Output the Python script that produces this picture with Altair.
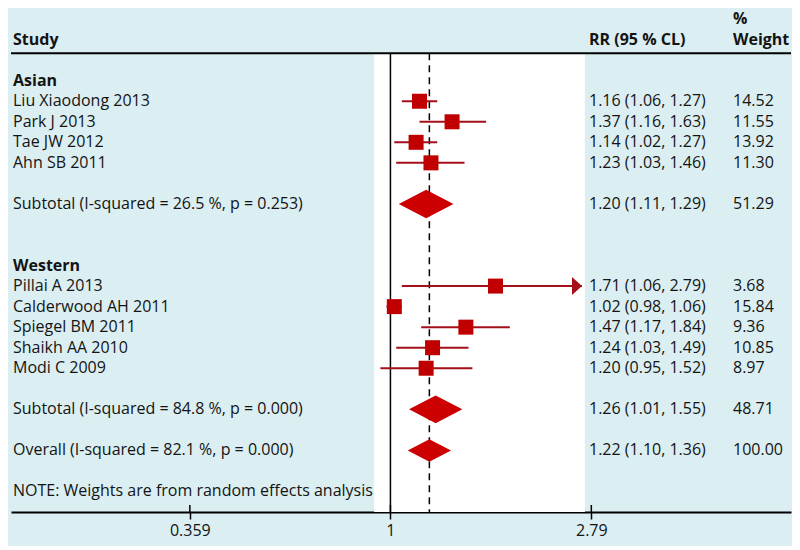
import altair as alt
import pandas as pd

# ---------------- data ----------------
studies = ["Liu Xiaodong 2013", "Park J 2013", "Tae JW 2012", "Ahn SB 2011",
           "Pillai A 2013", "Calderwood AH 2011", "Spiegel BM 2011",
           "Shaikh AA 2010", "Modi C 2009"]
study_rows = [1, 2, 3, 4, 10, 11, 12, 13, 14]
rr = [1.16, 1.37, 1.14, 1.23, 1.71, 1.02, 1.47, 1.24, 1.20]
lo = [1.06, 1.16, 1.02, 1.03, 1.06, 0.98, 1.17, 1.03, 0.95]
hi = [1.27, 1.63, 1.27, 1.46, 2.79, 1.06, 1.84, 1.49, 1.52]
weight = [14.52, 11.55, 13.92, 11.30, 3.68, 15.84, 9.36, 10.85, 8.97]

pooled_labels = ["Subtotal (I-squared = 26.5 %, p = 0.253)",
                 "Subtotal (I-squared = 84.8 %, p = 0.000)",
                 "Overall (I-squared = 82.1 %, p = 0.000)"]
pooled_rows = [6, 16, 18]
pooled_rr = [1.20, 1.26, 1.22]
pooled_lo = [1.11, 1.01, 1.10]
pooled_hi = [1.29, 1.55, 1.36]
pooled_w = [51.29, 48.71, 100.00]

group_labels = ["Asian", "Western"]
group_rows = [0, 9]
note_text = "NOTE: Weights are from random effects analysis"
note_row = 20

tick_values = [0.359, 1, 2.79]

# ---------------- layout / style constants ----------------
FONT = "Open Sans"
FS = 16
TXT = "#141414"
BG = "#dbeef2"
SQ_COLOR = "#c00000"
CI_COLOR = "#a50f1a"
DIA_COLOR = "#cc0000"
W, H = 780, 504
HEADER_ROW = -1.34
AXIS_ROW = 21
DISPLAY_MAX = 2.66      # CI beyond this is drawn with an arrow
BAND = (0.92, 2.70)     # white plot region
X_LEFT, X_RR, X_W = 2, 578, 722
DIAMOND_SIZES = [2990, 2840, 1875]

xscale = alt.Scale(type="log", domain=[0.1440, 7.736], nice=False, zero=False)
yscale = alt.Scale(domain=[-3.54, AXIS_ROW], reverse=True, nice=False, zero=False)
xaxis = alt.Axis(values=tick_values, format=".3~g", title=None, grid=False,
                 tickSize=7, tickWidth=1.5, tickColor="black",
                 domainColor="black", domainWidth=2,
                 labelFont=FONT, labelFontSize=FS, labelColor=TXT, labelPadding=3)


def X(field):
    return alt.X(field, type="quantitative", scale=xscale, axis=xaxis)


def Y(field):
    return alt.Y(field, type="quantitative", scale=yscale, axis=None)


# ---------------- tables ----------------
sdf = pd.DataFrame({"label": studies, "row": study_rows, "rr": rr, "lo": lo,
                    "hi": hi, "w": weight})
sdf["hi_disp"] = sdf["hi"].clip(upper=DISPLAY_MAX)
sdf["rrtxt"] = [f"{a:.2f} ({b:.2f}, {c:.2f})" for a, b, c in zip(rr, lo, hi)]
sdf["wtxt"] = [f"{v:.2f}" for v in weight]
arrow_df = sdf[sdf["hi"] > DISPLAY_MAX].copy()
arrow_df["tip"] = DISPLAY_MAX

pdf = pd.DataFrame({"label": pooled_labels, "row": pooled_rows, "rr": pooled_rr,
                    "lo": pooled_lo, "hi": pooled_hi, "w": pooled_w,
                    "dsize": DIAMOND_SIZES})
pdf["rrtxt"] = [f"{a:.2f} ({b:.2f}, {c:.2f})" for a, b, c in zip(pooled_rr, pooled_lo, pooled_hi)]
pdf["wtxt"] = [f"{v:.2f}" for v in pooled_w]

left_reg = pd.DataFrame({"label": studies + pooled_labels + [note_text],
                         "row": study_rows + pooled_rows + [note_row]})
left_bold = pd.DataFrame({"label": ["Study"] + group_labels, "row": [-2] + group_rows})
right_cols = pd.concat([sdf[["row", "rrtxt", "wtxt"]], pdf[["row", "rrtxt", "wtxt"]]])

band_df = pd.DataFrame({"x0": [BAND[0]], "x1": [BAND[1]], "y0": [HEADER_ROW], "y1": [AXIS_ROW]})
vline_df = pd.DataFrame({"v": [1.0], "y0": [HEADER_ROW], "y1": [AXIS_ROW]})
dline_df = pd.DataFrame({"v": [pooled_rr[-1]], "y0": [HEADER_ROW], "y1": [AXIS_ROW]})
hline_df = pd.DataFrame({"r": [HEADER_ROW]})
tick_df = pd.DataFrame({"v": tick_values, "y0": [AXIS_ROW - 7 / 20.54] * 3, "y1": [AXIS_ROW] * 3})

# ---------------- layers ----------------
band = alt.Chart(band_df).mark_rect(fill="white", stroke=None).encode(
    x=X("x0"), x2="x1", y=Y("y0"), y2="y1")
vline = alt.Chart(vline_df).mark_rule(color="black", strokeWidth=1.5).encode(
    x=X("v"), y=Y("y0"), y2="y1")
dline = alt.Chart(dline_df).mark_rule(color="black", strokeWidth=1.5,
                                      strokeDash=[7, 5]).encode(
    x=X("v"), y=Y("y0"), y2="y1")
hline = alt.Chart(hline_df).mark_rule(color="black", strokeWidth=2).encode(
    x=alt.value(0), x2=alt.value(W), y=Y("r"))
ticks_up = alt.Chart(tick_df).mark_rule(color="black", strokeWidth=1.5).encode(
    x=X("v"), y=Y("y0"), y2="y1")

ci = alt.Chart(sdf).mark_rule(color=CI_COLOR, strokeWidth=2).encode(
    x=X("lo"), x2="hi_disp", y=Y("row"))
arrow = alt.Chart(arrow_df).mark_point(
    shape="M-2,-1.8L0,0L-2,1.8Z", filled=True, opacity=1, size=100,
    color=CI_COLOR, strokeWidth=0).encode(x=X("tip"), y=Y("row"))
squares = alt.Chart(sdf).mark_square(size=225, filled=True, opacity=1,
                                     color=SQ_COLOR).encode(x=X("rr"), y=Y("row"))
diamonds = alt.Chart(pdf).mark_point(
    shape="M-1,0L0,-0.52L1,0L0,0.52Z", filled=True, opacity=1,
    color=DIA_COLOR, strokeWidth=0).encode(
    x=X("rr"), y=Y("row"), size=alt.Size("dsize:Q", scale=None, legend=None))


def text_layer(df, field, xpix, bold=False):
    return alt.Chart(df).mark_text(
        align="left", baseline="middle", font=FONT, fontSize=FS,
        fontWeight="bold" if bold else "normal", color=TXT).encode(
        x=alt.value(xpix), y=Y("row"), text=f"{field}:N")


t_left = text_layer(left_reg, "label", X_LEFT)
t_left_b = text_layer(left_bold, "label", X_LEFT, bold=True)
t_rr = text_layer(right_cols, "rrtxt", X_RR)
t_w = text_layer(right_cols, "wtxt", X_W)
t_rr_h = text_layer(pd.DataFrame({"label": ["RR (95 % CL)"], "row": [-2]}), "label", X_RR, bold=True)
t_w_h = text_layer(pd.DataFrame({"label": ["%", "Weight"], "row": [-3, -2]}), "label", X_W, bold=True)

chart = alt.layer(
    band, vline, dline, hline, ticks_up, ci, arrow, squares, diamonds,
    t_left, t_left_b, t_rr, t_w, t_rr_h, t_w_h
).properties(
    width=W, height=H,
    padding={"left": 2, "top": 0, "right": 0, "bottom": 8},
    background=BG,
).configure_view(stroke=None)

chart.save("out.html", embed_options={"renderer": "svg", "actions": False})
